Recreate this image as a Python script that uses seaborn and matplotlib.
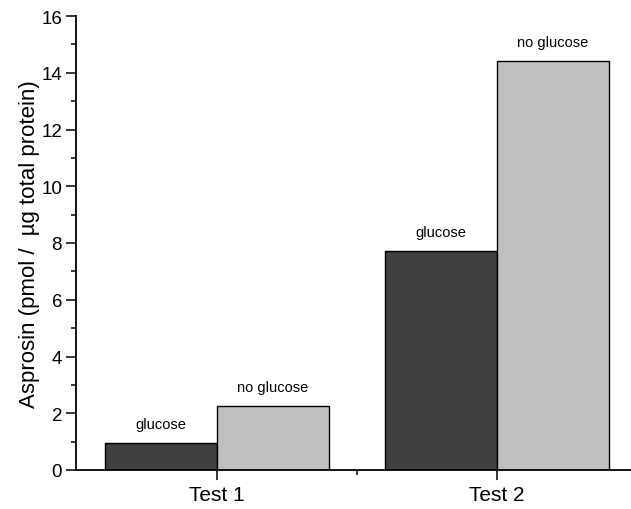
import pandas as pd
import numpy as np
import matplotlib.pyplot as plt
import seaborn as sns
from matplotlib.ticker import MultipleLocator, FixedLocator

# data
tests = ["Test 1", "Test 2"]
conditions = ["glucose", "no glucose"]
glucose = [0.95, 7.72]
no_glucose = [2.25, 14.4]

df = pd.DataFrame({
    "test": tests * 2,
    "condition": [conditions[0]] * 2 + [conditions[1]] * 2,
    "value": glucose + no_glucose,
})

sns.set_style("ticks")
plt.rcParams["font.family"] = ["Liberation Sans", "DejaVu Sans"]
plt.rcParams["text.color"] = "black"
plt.rcParams["axes.labelcolor"] = "black"
plt.rcParams["xtick.color"] = "black"
plt.rcParams["ytick.color"] = "black"

fig = plt.figure(figsize=(6.31, 5.10), dpi=100)
ax = fig.add_axes([76 / 631, 39 / 510, 555 / 631, 454 / 510])

sns.barplot(data=df, x="test", y="value", hue="condition",
            palette=["#404040", "#c0c0c0"], saturation=1,
            edgecolor="black", linewidth=1.0, width=0.8, gap=0,
            legend=False, ax=ax)

# labels above each bar
for cont, lab in zip(ax.containers, conditions):
    for bar in cont:
        ax.annotate(lab, (bar.get_x() + bar.get_width() / 2, bar.get_height()),
                    xytext=(0, 14), textcoords="offset points",
                    ha="center", va="center", fontsize=10.5, color="black")

ax.set_ylim(0, 16)
ax.set_xlim(-0.504, 1.479)
ax.yaxis.set_major_locator(MultipleLocator(2))
ax.yaxis.set_minor_locator(MultipleLocator(1))
ax.xaxis.set_minor_locator(FixedLocator([0.5]))

ax.set_xlabel("")
ax.set_ylabel("Asprosin (pmol /  µg total protein)", fontsize=16, labelpad=1)

ax.tick_params(axis="both", which="major", direction="out", length=7,
               width=1.1, color="black", labelcolor="black")
ax.tick_params(axis="both", which="minor", direction="out", length=3.6,
               width=1.1, color="black")
ax.tick_params(axis="y", which="major", labelsize=13.5, pad=3)
ax.tick_params(axis="x", which="major", labelsize=15, pad=4)

sns.despine(ax=ax)
for s in ["left", "bottom"]:
    ax.spines[s].set_linewidth(1.3)
    ax.spines[s].set_color("black")

fig.savefig("out.png", dpi=100)
